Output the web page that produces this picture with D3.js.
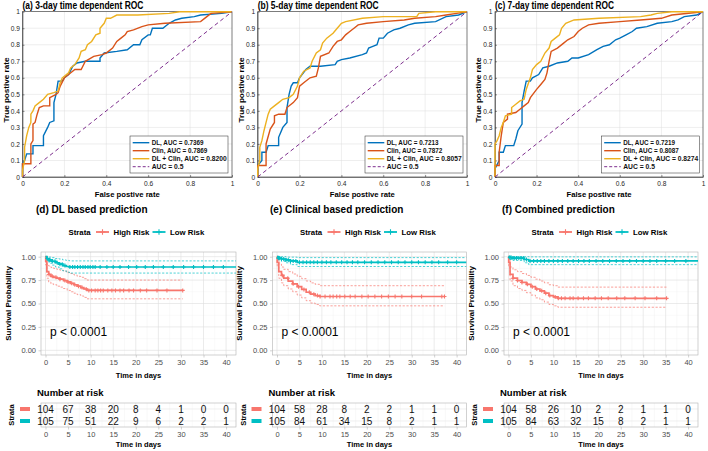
<!DOCTYPE html>
<html><head><meta charset="utf-8">
<script src="https://cdn.jsdelivr.net/npm/d3@7"></script>
<style>body{margin:0;background:#fff}svg{display:block}text{font-family:"Liberation Sans",Arial,Helvetica,sans-serif}</style>
</head><body><svg id="c" width="708" height="451"></svg>
<script>
// ---------------- ROC data ----------------
const rocTitles = ["(a) 3-day time dependent ROC", "(b) 5-day time dependent ROC", "(c) 7-day time dependent ROC"];
const rocNames = ["DL", "Clin", "DL + Clin"];
const aucA = ["0.7369", "0.7869", "0.8200"];
const aucB = ["0.7213", "0.7872", "0.8057"];
const aucC = ["0.7219", "0.8087", "0.8274"];
const rocTicksX = [0, 0.2, 0.4, 0.6, 0.8, 1];
const rocTicksY = [0, 0.1, 0.2, 0.3, 0.4, 0.5, 0.6, 0.7, 0.8, 0.9, 1];

const rocA_DL = [[0,0],[0,0.08],[0.01,0.1],[0.02,0.14],[0.05,0.14],[0.05,0.19],[0.1,0.19],[0.1,0.25],[0.12,0.3],[0.13,0.33],[0.15,0.34],[0.15,0.45],[0.16,0.5],[0.17,0.58],[0.19,0.58],[0.2,0.6],[0.22,0.62],[0.24,0.67],[0.26,0.69],[0.3,0.7],[0.37,0.7],[0.37,0.72],[0.39,0.75],[0.45,0.76],[0.5,0.77],[0.53,0.8],[0.56,0.8],[0.57,0.83],[0.6,0.86],[0.61,0.86],[0.62,0.9],[0.67,0.9],[0.7,0.93],[0.73,0.95],[0.76,0.96],[0.82,0.97],[0.85,0.98],[0.95,0.99],[1,1]];
const rocA_Clin = [[0,0],[0,0.08],[0.04,0.08],[0.04,0.2],[0.05,0.22],[0.05,0.32],[0.06,0.33],[0.07,0.38],[0.08,0.42],[0.1,0.43],[0.13,0.43],[0.13,0.48],[0.16,0.5],[0.17,0.51],[0.18,0.55],[0.2,0.6],[0.22,0.62],[0.25,0.65],[0.28,0.65],[0.3,0.7],[0.34,0.73],[0.38,0.74],[0.4,0.75],[0.43,0.78],[0.45,0.82],[0.47,0.84],[0.49,0.86],[0.5,0.88],[0.53,0.89],[0.57,0.91],[0.6,0.92],[0.68,0.93],[0.85,0.94],[0.88,0.97],[0.9,0.99],[1,1]];
const rocA_Comb = [[0,0],[0,0.04],[0.01,0.1],[0.01,0.18],[0.02,0.25],[0.03,0.3],[0.04,0.33],[0.04,0.38],[0.05,0.4],[0.06,0.43],[0.08,0.45],[0.1,0.47],[0.12,0.5],[0.15,0.51],[0.17,0.52],[0.18,0.57],[0.19,0.6],[0.22,0.63],[0.23,0.66],[0.25,0.68],[0.27,0.72],[0.28,0.76],[0.3,0.77],[0.31,0.8],[0.33,0.82],[0.35,0.86],[0.37,0.87],[0.37,0.9],[0.39,0.93],[0.4,0.96],[0.42,0.96],[0.45,0.98],[0.55,0.98],[0.7,0.99],[0.75,1],[1,1]];

const rocB_DL = [[0,0],[0,0.07],[0.02,0.1],[0.02,0.15],[0.04,0.15],[0.05,0.19],[0.1,0.19],[0.1,0.24],[0.12,0.3],[0.14,0.33],[0.14,0.42],[0.15,0.5],[0.16,0.55],[0.17,0.57],[0.19,0.57],[0.2,0.6],[0.23,0.65],[0.25,0.67],[0.3,0.67],[0.37,0.68],[0.38,0.7],[0.4,0.71],[0.44,0.72],[0.5,0.74],[0.52,0.75],[0.53,0.78],[0.55,0.79],[0.57,0.8],[0.58,0.84],[0.6,0.84],[0.62,0.87],[0.65,0.89],[0.68,0.9],[0.72,0.92],[0.75,0.93],[0.85,0.94],[0.9,0.97],[0.96,0.98],[1,1]];
const rocB_Clin = [[0,0],[0,0.07],[0.04,0.07],[0.04,0.2],[0.06,0.29],[0.08,0.33],[0.08,0.37],[0.1,0.38],[0.13,0.38],[0.14,0.42],[0.17,0.45],[0.19,0.48],[0.2,0.55],[0.22,0.57],[0.25,0.6],[0.28,0.61],[0.29,0.66],[0.3,0.73],[0.34,0.75],[0.36,0.79],[0.38,0.82],[0.4,0.83],[0.42,0.86],[0.44,0.88],[0.46,0.9],[0.48,0.92],[0.52,0.93],[0.6,0.94],[0.7,0.95],[0.75,0.96],[0.85,0.97],[0.9,0.98],[0.95,0.99],[1,1]];
const rocB_Comb = [[0,0],[0,0.05],[0.01,0.1],[0.01,0.18],[0.02,0.22],[0.03,0.28],[0.04,0.33],[0.05,0.38],[0.06,0.41],[0.08,0.43],[0.1,0.45],[0.12,0.47],[0.15,0.48],[0.17,0.5],[0.19,0.55],[0.2,0.6],[0.22,0.64],[0.25,0.66],[0.26,0.7],[0.28,0.75],[0.3,0.77],[0.31,0.81],[0.33,0.84],[0.36,0.87],[0.38,0.9],[0.4,0.93],[0.42,0.94],[0.5,0.96],[0.6,0.97],[0.76,0.97],[0.77,0.99],[0.85,1],[1,1]];

const rocC_DL = [[0,0],[0,0.05],[0.02,0.1],[0.02,0.15],[0.04,0.15],[0.05,0.19],[0.09,0.19],[0.1,0.23],[0.11,0.28],[0.13,0.32],[0.13,0.45],[0.14,0.52],[0.15,0.58],[0.17,0.58],[0.18,0.6],[0.21,0.62],[0.23,0.66],[0.26,0.67],[0.3,0.69],[0.35,0.7],[0.37,0.72],[0.4,0.72],[0.45,0.74],[0.49,0.77],[0.52,0.79],[0.55,0.8],[0.58,0.83],[0.6,0.84],[0.63,0.86],[0.66,0.88],[0.68,0.9],[0.73,0.91],[0.78,0.93],[0.85,0.94],[0.88,0.95],[0.91,0.97],[0.97,0.98],[1,1]];
const rocC_Clin = [[0,0],[0,0.07],[0.02,0.07],[0.02,0.15],[0.03,0.25],[0.04,0.33],[0.06,0.35],[0.06,0.38],[0.1,0.39],[0.12,0.41],[0.14,0.43],[0.16,0.45],[0.17,0.48],[0.2,0.53],[0.22,0.56],[0.24,0.59],[0.25,0.63],[0.26,0.7],[0.27,0.76],[0.3,0.78],[0.33,0.81],[0.35,0.83],[0.38,0.85],[0.4,0.88],[0.42,0.9],[0.45,0.92],[0.5,0.93],[0.6,0.94],[0.7,0.95],[0.8,0.96],[0.85,0.98],[1,1]];
const rocC_Comb = [[0,0],[0,0.2],[0.01,0.22],[0.02,0.25],[0.03,0.3],[0.04,0.33],[0.05,0.37],[0.08,0.38],[0.08,0.42],[0.1,0.44],[0.12,0.46],[0.14,0.47],[0.15,0.53],[0.17,0.6],[0.18,0.65],[0.2,0.68],[0.22,0.7],[0.24,0.75],[0.26,0.78],[0.27,0.82],[0.29,0.84],[0.31,0.86],[0.32,0.9],[0.34,0.93],[0.38,0.95],[0.5,0.96],[0.7,0.97],[0.75,0.98],[0.78,0.99],[0.85,1],[1,1]];
const rocDiag = [[0,0],[1,1]];

// ---------------- KM data ----------------
const kmTitles = ["(d) DL based prediction", "(e) Clinical based prediction", "(f) Combined prediction"];
const strata = ["High Risk", "Low Risk"];
const kmTicks = [0, 5, 10, 15, 20, 25, 30, 35, 40];
const survTicks = [0, 0.25, 0.5, 0.75, 1];
const pText = "p < 0.0001";

const dHighT = [0,0.05,0.3,0.7,1.2,1.8,2.5,3.2,4.0,4.8,5.5,6.3,7.0,7.8,8.5,9.2];
const dHighS = [1,0.95,0.84,0.81,0.79,0.78,0.77,0.76,0.745,0.73,0.715,0.70,0.685,0.67,0.655,0.64];
const dHighUp = [1,0.99,0.92,0.9,0.885,0.875,0.865,0.855,0.845,0.83,0.82,0.805,0.79,0.78,0.765,0.75];
const dHighLo = [1,0.91,0.77,0.73,0.71,0.7,0.685,0.675,0.66,0.64,0.625,0.61,0.595,0.58,0.565,0.55];
const dHighEnd = 30.4;
const dHighCens = [0.8,1.5,2.3,3.2,4.3,5.0,5.8,6.5,7.3,8.1,9.0,9.6,10.2,11.0,11.6,12.2,12.8,13.8,14.7,15.5,16.5,17.3,18.5,19.5,21,22.4,24.7,26.9,30.4];
const dLowT = [0,0.3,0.8,1.5,2.2,3.0,3.8,4.6,5.3];
const dLowS = [1,0.98,0.965,0.95,0.935,0.92,0.905,0.895,0.89];
const dLowUp = [1,1,0.995,0.99,0.98,0.975,0.965,0.96,0.955];
const dLowLo = [1,0.95,0.93,0.91,0.89,0.87,0.85,0.835,0.825];
const dLowEnd = 42.2;
const dLowCens = [0.4,0.8,1.0,1.5,2.1,2.6,3.2,3.7,4.3,5.4,6.0,6.5,7.1,7.7,8.3,8.8,9.4,9.9,10.5,11.0,12.1,13.6,15.0,16.5,18.4,20.2,22.1,23.9,26.1,28.3,30.6,32.8,35.0,37.2,39.4];

const eHighT = [0,0.05,0.4,1.0,1.5,2.5,3.5,4.5,5.5,6.5,7.5,8.5,9.5];
const eHighS = [1,0.94,0.84,0.8,0.77,0.74,0.71,0.68,0.65,0.62,0.6,0.585,0.575];
const eHighUp = [1,0.99,0.92,0.89,0.865,0.84,0.815,0.79,0.765,0.74,0.72,0.705,0.69];
const eHighLo = [1,0.89,0.77,0.72,0.69,0.655,0.625,0.59,0.56,0.53,0.505,0.49,0.475];
const eHighEnd = 37.3;
const eHighCens = [1.2,2.4,3.6,4.8,6.0,7.2,8.2,9.0,9.6,10.7,11.8,12.5,13.3,14.0,15.1,16.3,17.4,18.9,20.3,21.8,23.3,24.8,26.3,27.8,30.0,32.2,36.7,37.3];
const eLowT = [0,0.3,1.0,2.0,3.0,4.5];
const eLowS = [1,0.985,0.975,0.965,0.955,0.94];
const eLowUp = [1,1,1,0.995,0.995,0.99];
const eLowLo = [1,0.965,0.95,0.935,0.915,0.895];
const eLowEnd = 42.2;
const eLowCens = [0.3,0.6,1.0,1.5,2.0,2.5,3.0,3.6,4.2,5.0,5.8,6.6,7.4,8.2,9.0,10.0,11.0,12.0,13.2,14.4,15.6,16.8,18.0,19.5,21,22.5,24,25.5,27,28.5,30,31.5,33,34.5,36,38,40];

const fHighT = [0,0.05,0.35,1.0,2.0,3.0,4.0,5.0,6.0,7.0,8.0,9.0,10.0,11.0];
const fHighS = [1,0.94,0.81,0.77,0.745,0.725,0.705,0.68,0.655,0.635,0.61,0.585,0.57,0.555];
const fHighUp = [1,0.99,0.89,0.86,0.84,0.82,0.8,0.78,0.76,0.74,0.72,0.7,0.69,0.675];
const fHighLo = [1,0.89,0.74,0.69,0.66,0.64,0.615,0.59,0.56,0.54,0.515,0.49,0.475,0.46];
const fHighEnd = 35.2;
const fHighCens = [1.0,2.0,3.0,4.2,5.3,6.3,7.4,8.3,9.2,10.4,11.1,11.8,12.6,13.7,14.4,15.5,16.7,17.8,19.3,20.7,22.2,24.1,25.9,28.2,30.4,33.0,35.2];
const fLowT = [0,0.3,1.0,3.5,4.5];
const fLowS = [1,0.99,0.985,0.97,0.955];
const fLowUp = [1,1,1,1,0.998];
const fLowLo = [1,0.97,0.96,0.935,0.915];
const fLowEnd = 42.2;
const fLowCens = [0.3,0.6,1.0,1.4,1.8,2.3,2.8,3.3,4.0,4.8,5.6,6.4,7.2,8.0,9.0,10.0,11.0,12.0,13.2,14.4,15.6,16.8,18.0,19.5,21,22.5,24,25.5,27,28.5,30,31.5,33,35,37,39.5];

const riskD = [[104,67,38,20,8,4,1,0,0],[105,75,51,22,9,6,2,2,1]];
const riskE = [[104,58,28,8,2,2,1,1,0],[105,84,61,34,15,8,2,1,1]];
const riskF = [[104,58,26,10,2,2,1,1,0],[105,84,63,32,15,8,2,1,1]];

// ---------------- drawing ----------------
const svg = d3.select("#c");
const rocColors = ["#0072BD", "#D95319", "#EDB120"];
const diagColor = "#7E2F8E";
const kmColors = ["#F8766D", "#00BFC4"];

const rocPanels = [
  {title: rocTitles[0], auc: aucA, curves: [rocA_DL, rocA_Clin, rocA_Comb], x0: 22.5, x1: 232, legX: 130, tLen: 121},
  {title: rocTitles[1], auc: aucB, curves: [rocB_DL, rocB_Clin, rocB_Comb], x0: 257.7, x1: 467, legX: 365, tLen: 121},
  {title: rocTitles[2], auc: aucC, curves: [rocC_DL, rocC_Clin, rocC_Comb], x0: 495, x1: 703, legX: 601.5, tLen: 119}
];
const yR = d3.scaleLinear([0, 1], [177, 11.7]);
const rocFmt = d => d === 0 ? "0" : d === 1 ? "1" : d3.format(".1f")(d);
const legLens = [51.7, 55.7, 75, 31.7];

rocPanels.forEach(p => {
  const g = svg.append("g");
  const x = d3.scaleLinear([0, 1], [p.x0, p.x1]);
  // grid
  g.selectAll(null).data(rocTicksX.slice(1, -1)).join("line")
    .attr("x1", d => x(d)).attr("x2", d => x(d)).attr("y1", yR(0)).attr("y2", yR(1))
    .attr("stroke", "#dcdcdc").attr("stroke-width", 0.5);
  g.selectAll(null).data(rocTicksY.slice(1, -1)).join("line")
    .attr("x1", x(0)).attr("x2", x(1)).attr("y1", d => yR(d)).attr("y2", d => yR(d))
    .attr("stroke", "#dcdcdc").attr("stroke-width", 0.5);
  // axes
  const ax = g.append("g").attr("transform", `translate(0,${yR(0)})`)
    .call(d3.axisBottom(x).tickValues(rocTicksX).tickSize(-2).tickSizeOuter(0).tickPadding(4).tickFormat(rocFmt));
  const ay = g.append("g").attr("transform", `translate(${x(0)},0)`)
    .call(d3.axisLeft(yR).tickValues(rocTicksY).tickSize(-2).tickSizeOuter(0).tickPadding(2.5).tickFormat(rocFmt));
  [ax, ay].forEach(a => {
    a.selectAll("path,line").attr("stroke", "#262626").attr("stroke-width", 0.5);
    a.selectAll("text").attr("font-size", 6.6).attr("fill", "#262626").attr("font-family", '"Liberation Sans",Arial,sans-serif');
  });
  g.append("rect").attr("x", x(0)).attr("y", yR(1)).attr("width", x(1) - x(0)).attr("height", yR(0) - yR(1))
    .attr("fill", "none").attr("stroke", "#262626").attr("stroke-width", 0.6);
  // curves
  const line = d3.line().x(d => x(d[0])).y(d => yR(d[1]));
  p.curves.forEach((c, i) => {
    g.append("path").attr("d", line(c)).attr("fill", "none").attr("stroke", rocColors[i]).attr("stroke-width", 1.4);
  });
  g.append("path").attr("d", line(rocDiag)).attr("fill", "none").attr("stroke", diagColor)
    .attr("stroke-width", 1).attr("stroke-dasharray", "4,3");
  // title & labels
  g.append("text").attr("x", p.x0).attr("y", 8.8).attr("font-size", 10).attr("font-weight", "bold")
    .attr("textLength", p.tLen).attr("lengthAdjust", "spacingAndGlyphs").text(p.title);
  g.append("text").attr("x", (p.x0 + p.x1) / 2).attr("y", 196.5).attr("text-anchor", "middle")
    .attr("font-size", 7.5).attr("font-weight", "bold").attr("textLength", 65).attr("lengthAdjust", "spacingAndGlyphs")
    .text("False postive rate");
  g.append("text").attr("transform", `translate(${p.x0 - 14},90) rotate(-90)`).attr("text-anchor", "middle")
    .attr("font-size", 7.5).attr("font-weight", "bold").attr("textLength", 65).attr("lengthAdjust", "spacingAndGlyphs")
    .text("True postive rate");
  // legend
  const lg = g.append("g");
  lg.append("rect").attr("x", p.legX).attr("y", 136).attr("width", 98).attr("height", 37)
    .attr("fill", "#fff").attr("stroke", "#262626").attr("stroke-width", 0.5);
  const labels = rocNames.map((n, i) => `${n}, AUC = ${p.auc[i]}`).concat(["AUC = 0.5"]);
  const cols = rocColors.concat([diagColor]);
  labels.forEach((t, i) => {
    const yy = 142.7 + i * 8;
    lg.append("line").attr("x1", p.legX + 2.7).attr("x2", p.legX + 19.3).attr("y1", yy).attr("y2", yy)
      .attr("stroke", cols[i]).attr("stroke-width", i === 3 ? 1 : 1.4).attr("stroke-dasharray", i === 3 ? "3,2" : null);
    lg.append("text").attr("x", p.legX + 21.7).attr("y", yy + 2.3).attr("font-size", 6.5).attr("font-weight", "bold")
      .attr("textLength", legLens[i]).attr("lengthAdjust", "spacingAndGlyphs").attr("fill", "#111").text(t);
  });
});

// KM panels
const kmPanels = [
  {title: kmTitles[0], titleX: 36, left: 41, right: 236, risk: riskD,
   hi: {t: dHighT, s: dHighS, up: dHighUp, lo: dHighLo, end: dHighEnd, cens: dHighCens},
   lw: {t: dLowT, s: dLowS, up: dLowUp, lo: dLowLo, end: dLowEnd, cens: dLowCens}},
  {title: kmTitles[1], titleX: 270, left: 272.5, right: 466.5, risk: riskE,
   hi: {t: eHighT, s: eHighS, up: eHighUp, lo: eHighLo, end: eHighEnd, cens: eHighCens},
   lw: {t: eLowT, s: eLowS, up: eLowUp, lo: eLowLo, end: eLowEnd, cens: eLowCens}},
  {title: kmTitles[2], titleX: 502, left: 504, right: 698, risk: riskF,
   hi: {t: fHighT, s: fHighS, up: fHighUp, lo: fHighLo, end: fHighEnd, cens: fHighCens},
   lw: {t: fLowT, s: fLowS, up: fLowUp, lo: fLowLo, end: fLowEnd, cens: fLowCens}}
];
const yK = d3.scaleLinear([-0.05, 1.05], [355, 252]);
const tickCol = "#4D4D4D", borderCol = "#B3B3B3";

function stepPts(t, s, end) {
  const pts = t.map((v, i) => [v, s[i]]);
  pts.push([end, s[s.length - 1]]);
  return pts;
}
function survAt(t, s, v) {
  let idx = d3.bisectRight(t, v) - 1;
  return s[Math.max(0, idx)];
}
function plus(g, x, y, col, r) {
  g.append("path").attr("d", `M${x - r},${y}h${2 * r}M${x},${y - r}v${2 * r}`)
    .attr("stroke", col).attr("stroke-width", 1.1).attr("fill", "none");
}

kmPanels.forEach((p, pi) => {
  const g = svg.append("g");
  const x = d3.scaleLinear([-1, 42.2], [p.left, p.right]);
  const clipId = "clip" + pi;
  g.append("clipPath").attr("id", clipId).append("rect")
    .attr("x", p.left).attr("y", 252).attr("width", p.right - p.left).attr("height", 103);
  // title
  g.append("text").attr("x", p.titleX).attr("y", 212.5).attr("font-size", 10).attr("font-weight", "bold").text(p.title);
  // legend
  const ly = 232;
  g.append("text").attr("x", p.left + 27.5).attr("y", ly + 2.8).attr("font-size", 7.8).attr("font-weight", "bold").text("Strata");
  [[55, 72.5], [111.5, 129]].forEach((o, i) => {
    g.append("line").attr("x1", p.left + o[0]).attr("x2", p.left + o[0] + 13).attr("y1", ly).attr("y2", ly)
      .attr("stroke", kmColors[i]).attr("stroke-width", 1.8);
    plus(g, p.left + o[0] + 6.5, ly, kmColors[i], 2.8);
    g.append("text").attr("x", p.left + o[1]).attr("y", ly + 2.8).attr("font-size", 7.8).attr("font-weight", "bold").text(strata[i]);
  });
  // panel grid
  const minorX = d3.range(2.5, 42, 5), minorY = [0.125, 0.375, 0.625, 0.875];
  g.selectAll(null).data(minorX).join("line").attr("x1", d => x(d)).attr("x2", d => x(d)).attr("y1", 252).attr("y2", 355)
    .attr("stroke", "#F0F0F0").attr("stroke-width", 0.4);
  g.selectAll(null).data(minorY).join("line").attr("x1", p.left).attr("x2", p.right).attr("y1", d => yK(d)).attr("y2", d => yK(d))
    .attr("stroke", "#F0F0F0").attr("stroke-width", 0.4);
  g.selectAll(null).data(kmTicks).join("line").attr("x1", d => x(d)).attr("x2", d => x(d)).attr("y1", 252).attr("y2", 355)
    .attr("stroke", "#DEDEDE").attr("stroke-width", 0.6);
  g.selectAll(null).data(survTicks).join("line").attr("x1", p.left).attr("x2", p.right).attr("y1", d => yK(d)).attr("y2", d => yK(d))
    .attr("stroke", "#DEDEDE").attr("stroke-width", 0.6);
  // axes
  const ax = g.append("g").attr("transform", "translate(0,355)")
    .call(d3.axisBottom(x).tickValues(kmTicks).tickSize(2.5).tickSizeOuter(0).tickPadding(2.5));
  const ay = g.append("g").attr("transform", `translate(${p.left},0)`)
    .call(d3.axisLeft(yK).tickValues(survTicks).tickSize(2.5).tickSizeOuter(0).tickPadding(2.5).tickFormat(d3.format(".2f")));
  [ax, ay].forEach(a => {
    a.select(".domain").remove();
    a.selectAll("line").attr("stroke", borderCol).attr("stroke-width", 0.6);
    a.selectAll("text").attr("font-size", 7.5).attr("fill", tickCol).attr("font-family", '"Liberation Sans",Arial,sans-serif');
  });
  g.append("rect").attr("x", p.left).attr("y", 252).attr("width", p.right - p.left).attr("height", 103)
    .attr("fill", "none").attr("stroke", borderCol).attr("stroke-width", 0.6);
  // curves
  const cg = g.append("g").attr("clip-path", `url(#${clipId})`);
  const step = d3.line().curve(d3.curveStepAfter).x(d => x(d[0])).y(d => yK(d[1]));
  [p.hi, p.lw].forEach((c, i) => {
    cg.append("path").attr("d", step(stepPts(c.t, c.up, c.end))).attr("fill", "none")
      .attr("stroke", kmColors[i]).attr("stroke-width", 0.7).attr("stroke-dasharray", "2.2,1.6");
    cg.append("path").attr("d", step(stepPts(c.t, c.lo, c.end))).attr("fill", "none")
      .attr("stroke", kmColors[i]).attr("stroke-width", 0.7).attr("stroke-dasharray", "2.2,1.6");
  });
  [p.hi, p.lw].forEach((c, i) => {
    cg.append("path").attr("d", step(stepPts(c.t, c.s, c.end))).attr("fill", "none")
      .attr("stroke", kmColors[i]).attr("stroke-width", 1.7);
    c.cens.forEach(tc => plus(cg, x(tc), yK(survAt(c.t, c.s, tc)), kmColors[i], 2));
  });
  // p value
  g.append("text").attr("x", x(1)).attr("y", yK(0.2) + 4.3).attr("font-size", 12).text(pText);
  // axis titles
  g.append("text").attr("x", (p.left + p.right) / 2).attr("y", 377.5).attr("text-anchor", "middle")
    .attr("font-size", 7.5).attr("font-weight", "bold").text("Time in days");
  g.append("text").attr("transform", `translate(${p.left - 30.5},303.5) rotate(-90)`).attr("text-anchor", "middle")
    .attr("font-size", 8).attr("font-weight", "bold").text("Survival Probability");

  // risk table
  g.append("text").attr("x", p.left - 4).attr("y", 395.5).attr("font-size", 9.5).attr("font-weight", "bold").text("Number at risk");
  const rowY = [409, 421];
  g.selectAll(null).data(minorX).join("line").attr("x1", d => x(d)).attr("x2", d => x(d)).attr("y1", 403).attr("y2", 427)
    .attr("stroke", "#F0F0F0").attr("stroke-width", 0.4);
  g.selectAll(null).data(kmTicks).join("line").attr("x1", d => x(d)).attr("x2", d => x(d)).attr("y1", 403).attr("y2", 427)
    .attr("stroke", "#DEDEDE").attr("stroke-width", 0.6);
  g.selectAll(null).data(rowY).join("line").attr("x1", p.left).attr("x2", p.right).attr("y1", d => d).attr("y2", d => d)
    .attr("stroke", "#E6E6E6").attr("stroke-width", 0.6);
  g.append("rect").attr("x", p.left).attr("y", 403).attr("width", p.right - p.left).attr("height", 24)
    .attr("fill", "none").attr("stroke", borderCol).attr("stroke-width", 0.6);
  const tx = g.append("g").attr("transform", "translate(0,427)")
    .call(d3.axisBottom(x).tickValues(kmTicks).tickSize(2.5).tickSizeOuter(0).tickPadding(2.5));
  tx.select(".domain").remove();
  tx.selectAll("line").attr("stroke", borderCol).attr("stroke-width", 0.6);
  tx.selectAll("text").attr("font-size", 7.5).attr("fill", tickCol).attr("font-family", '"Liberation Sans",Arial,sans-serif');
  p.risk.forEach((row, ri) => {
    g.append("line").attr("x1", p.left - 2.5).attr("x2", p.left).attr("y1", rowY[ri]).attr("y2", rowY[ri])
      .attr("stroke", borderCol).attr("stroke-width", 0.6);
    g.append("rect").attr("x", p.left - 21).attr("y", rowY[ri] - 2).attr("width", 10).attr("height", 4).attr("fill", kmColors[ri]);
    row.forEach((v, k) => {
      g.append("text").attr("x", x(kmTicks[k])).attr("y", rowY[ri] + 3.6).attr("text-anchor", "middle")
        .attr("font-size", 10).attr("fill", "#111").text(v);
    });
  });
  g.append("text").attr("x", (p.left + p.right) / 2).attr("y", 446.8).attr("text-anchor", "middle")
    .attr("font-size", 7.5).attr("font-weight", "bold").text("Time in days");
  g.append("text").attr("transform", `translate(${p.left - 27},415) rotate(-90)`).attr("text-anchor", "middle")
    .attr("font-size", 7.5).attr("font-weight", "bold").text("Strata");
});
</script>
</body></html>
